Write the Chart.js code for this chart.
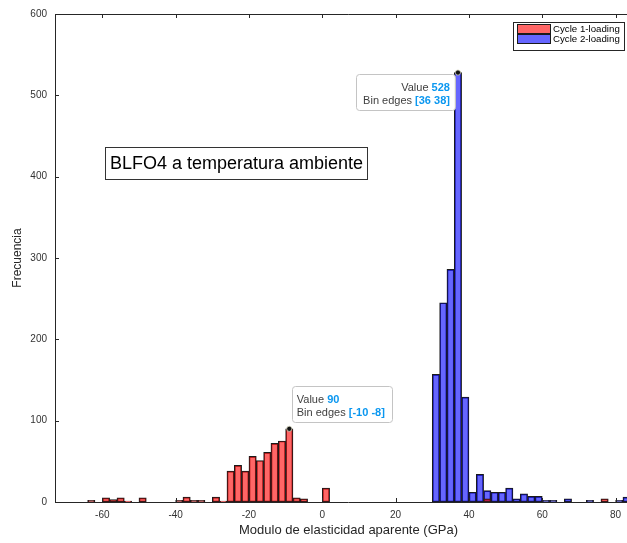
<!DOCTYPE html>
<html>
<head>
<meta charset="utf-8">
<script src="https://cdn.jsdelivr.net/npm/chart.js@4.4.0/dist/chart.umd.min.js"></script>
<style>
  html, body { margin:0; padding:0; background:#fff; overflow:hidden; }
  #wrap { width:627px; height:543px; overflow:hidden; }
  canvas { display:block; }
</style>
</head>
<body>
<div id="wrap"><canvas id="histo" width="642" height="543"></canvas></div>
<script>
// ══════════════════════════════════════════════
// DATOS (leídos del histograma)
// ══════════════════════════════════════════════
const BIN_W     = 2;
const edgesC1   = [-64, -60, -58, -56, -54, -50, -40, -38, -36, -34, -30, -28, -26, -24, -22, -20, -18, -16, -14, -12, -10, -8, -6, 0, 44, 76];
const countsC1  = [  2,   5,   3,   5,   1,   5,   2,   6,   2,   2,   6,   1,  38,  45,  38,  56,  51,  61,  72,  75,  90,  5,  4, 17,  4,  4];
const edgesC2   = [30, 32, 34, 36, 38, 40, 42, 44, 46, 48, 50, 52, 54, 56, 58, 60, 62, 66, 72, 80, 82];
const countsC2  = [157, 245, 286, 528, 129, 12, 34, 14, 12, 12, 17, 4, 10, 7, 7, 2, 2, 4, 2, 2, 6];
const xTicks    = [-60, -40, -20, 0, 20, 40, 60, 80];
const yTicks    = [0, 100, 200, 300, 400, 500, 600];
const seriesNames = ['Cycle 1-loading', 'Cycle 2-loading'];
const tipBins   = [[0, -10], [1, 36]];   // [serie, borde izquierdo del bin]
const noteText  = 'BLFO4 a temperatura ambiente';

const FONT   = '"Liberation Sans", Arial, Helvetica, sans-serif';
const AXIS_C = '#262626';
const FILLS  = ['rgba(255,0,0,0.6)', 'rgba(0,0,255,0.6)'];
const TIP_C  = '#0a97f0';

const toPts = (edges, counts) => edges.map((e, i) => ({ x: e + BIN_W/2, y: counts[i] }));
const allEdges  = [edgesC1, edgesC2];
const allCounts = [countsC1, countsC2];

// ══════════════════════════════════════════════
// DECORACIÓN (marco, ticks, leyenda, notas)
// ══════════════════════════════════════════════
function drawTip(ctx, px, py, edge, value, rightSide) {
  const l1 = [['Value ', false], [String(value), true]];
  const l2 = [['Bin edges ', false], [`[${edge} ${edge+BIN_W}]`, true]];
  const font = b => `${b?'bold ':''}11px ${FONT}`;
  const wOf = parts => parts.reduce((s,[t,b]) => { ctx.font = font(b); return s + ctx.measureText(t).width; }, 0);
  const tw = Math.max(wOf(l1), wOf(l2));
  const w = tw + 12, h = 36;
  const bx = rightSide ? px - 3 - w : px + 2.5;
  const by = rightSide ? py + 1 : py - 7 - h;
  ctx.save();
  ctx.beginPath(); ctx.roundRect(Math.round(bx)+0.5, Math.round(by)+0.5, Math.round(w), h, 3);
  ctx.fillStyle = 'rgba(255,255,255,0.95)'; ctx.fill();
  ctx.strokeStyle = '#c4c4c4'; ctx.lineWidth = 1; ctx.stroke();
  ctx.textBaseline = 'middle';
  [[l1, 14], [l2, 27.5]].forEach(([parts, dy]) => {
    let x = rightSide ? bx + w - 5 - wOf(parts) : bx + 5;
    parts.forEach(([t,b]) => {
      ctx.font = font(b); ctx.fillStyle = b ? TIP_C : '#404040';
      ctx.fillText(t, x, by + dy); x += ctx.measureText(t).width;
    });
  });
  ctx.beginPath(); ctx.arc(px, py, 2.6, 0, Math.PI*2);
  ctx.fillStyle = '#111'; ctx.fill(); ctx.strokeStyle = '#d8d8c0'; ctx.lineWidth = 0.8; ctx.stroke();
  ctx.restore();
}

const decoPlugin = {
  id: 'deco',
  afterDatasetsDraw(chart) {
    const { ctx, chartArea: a, scales: { x, y } } = chart;
    ctx.save();
    // marco
    ctx.strokeStyle = AXIS_C; ctx.lineWidth = 1;
    ctx.beginPath();
    ctx.moveTo(a.left + 0.5, a.bottom + 0.5); ctx.lineTo(a.left + 0.5, a.top + 0.5); ctx.lineTo(a.right, a.top + 0.5);
    ctx.moveTo(a.left, a.bottom + 0.5); ctx.lineTo(a.right, a.bottom + 0.5);
    xTicks.forEach(v => {
      const p = Math.round(x.getPixelForValue(v)) + 0.5;
      ctx.moveTo(p, a.bottom); ctx.lineTo(p, a.bottom - 4);
      ctx.moveTo(p, a.top); ctx.lineTo(p, a.top + 4);
    });
    yTicks.forEach(v => {
      const p = Math.round(y.getPixelForValue(v)) + 0.5;
      ctx.moveTo(a.left, p); ctx.lineTo(a.left + 4, p);
    });
    ctx.stroke();

    // leyenda
    ctx.fillStyle = '#fff'; ctx.fillRect(513.5, 22.5, 111, 28);
    ctx.strokeStyle = AXIS_C; ctx.strokeRect(513.5, 22.5, 111, 28);
    seriesNames.forEach((n, i) => {
      const yy = 24.5 + i*10;
      ctx.fillStyle = FILLS[i]; ctx.fillRect(517.5, yy, 33, 9);
      ctx.strokeStyle = '#1a1a1a'; ctx.strokeRect(517.5, yy, 33, 9);
      ctx.fillStyle = '#000'; ctx.font = `9.7px ${FONT}`; ctx.textBaseline = 'middle';
      ctx.fillText(n, 553, yy + 5);
    });

    // nota de texto
    ctx.fillStyle = '#fff'; ctx.fillRect(105.5, 147.5, 262, 32);
    ctx.strokeStyle = '#333'; ctx.strokeRect(105.5, 147.5, 262, 32);
    ctx.fillStyle = '#000'; ctx.font = `18px ${FONT}`; ctx.textBaseline = 'middle';
    ctx.fillText(noteText, 110, 164);
    ctx.restore();

    // datatips
    tipBins.forEach(([s, edge]) => {
      const val = allCounts[s][allEdges[s].indexOf(edge)];
      drawTip(ctx, x.getPixelForValue(edge + BIN_W/2), y.getPixelForValue(val), edge, val, s === 1);
    });
  }
};

// ══════════════════════════════════════════════
// CHART
// ══════════════════════════════════════════════
const dsBase = { borderColor: '#1a1a1a', borderWidth: 1, borderSkipped: false, grouped: false, barPercentage: 1, categoryPercentage: 1 };

new Chart(document.getElementById('histo'), {
  type: 'bar',
  data: {
    datasets: [
      { ...dsBase, label: seriesNames[0], data: toPts(edgesC1, countsC1), backgroundColor: FILLS[0] },
      { ...dsBase, label: seriesNames[1], data: toPts(edgesC2, countsC2), backgroundColor: FILLS[1] }
    ]
  },
  options: {
    responsive: false, animation: false,
    layout: { padding: { top: 12, left: 0, right: 0, bottom: 0 } },
    plugins: { legend: { display: false }, tooltip: { enabled: false } },
    scales: {
      x: {
        type: 'linear', min: -72.9, max: 87.2, offset: false,
        afterBuildTicks: s => { s.ticks = xTicks.map(v => ({ value: v })); },
        afterFit: s => { s.height = 41; },
        grid: { display: false, drawTicks: false, offset: false }, border: { display: false },
        ticks: { padding: 7, color: '#333', font: { family: FONT, size: 10 }, maxRotation: 0, autoSkip: false },
        title: { display: true, text: 'Modulo de elasticidad aparente (GPa)', color: AXIS_C, font: { family: FONT, size: 13 }, padding: { top: 0, bottom: 5 } }
      },
      y: {
        min: 0, max: 600,
        afterBuildTicks: s => { s.ticks = yTicks.map(v => ({ value: v })); },
        afterFit: s => { s.width = 55; },
        grid: { display: false, drawTicks: false }, border: { display: false },
        ticks: { padding: 8, color: '#333', font: { family: FONT, size: 10 } },
        title: { display: true, text: 'Frecuencia', color: AXIS_C, font: { family: FONT, size: 12 }, padding: { top: 10, bottom: 0 } }
      }
    }
  },
  plugins: [decoPlugin]
});
</script>
</body>
</html>
